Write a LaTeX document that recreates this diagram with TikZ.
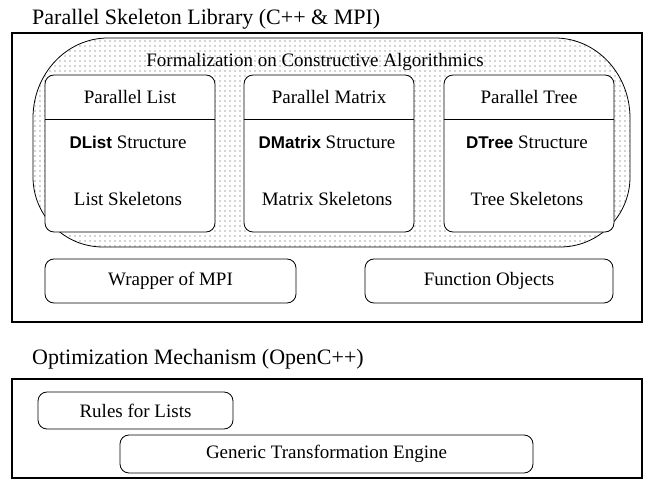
\documentclass[tikz,border=0pt]{standalone}
\usepackage{fontspec}
\setmainfont{Liberation Serif}
\setsansfont{Liberation Sans}
\usetikzlibrary{patterns.meta}

% fine grey stipple used for the formalization layer
\tikzdeclarepattern{
  name=stipple,
  type=uncolored,
  bottom left={(-1pt,-1pt)},
  top right={(4pt,4pt)},
  tile size={(5pt,5pt)},
  code={\fill (0pt,0pt) circle (0.7pt);}
}

\tikzset{
  x=1pt, y=-1pt,
  frame/.style={draw, line width=2.2pt},
  module/.style={draw, line width=0.8pt, rounded corners=9pt, fill=white},
  lbl/.style={font=\fontsize{19}{22}\selectfont, inner sep=0pt},
  ttl/.style={font=\fontsize{22}{26}\selectfont, inner sep=0pt, anchor=west},
}
\newcommand{\cls}[1]{{\sffamily\bfseries\fontsize{17}{20}\selectfont #1}}
% outline of the formalization layer (y grows downwards, so angles are mirrored)
\newcommand{\layerpath}{
  (108,38) -- (555,38)
  arc[start angle=-90, end angle=0, x radius=75, y radius=80]
  -- (630,177)
  arc[start angle=0, end angle=90, x radius=70, y radius=70]
  -- (103,247)
  arc[start angle=90, end angle=180, x radius=70, y radius=70]
  -- (33,118)
  arc[start angle=180, end angle=270, x radius=75, y radius=80]
  -- cycle}

\begin{document}
\begin{tikzpicture}
\useasboundingbox (0,0) rectangle (651,481);

% ---------- Parallel Skeleton Library ----------
\node[ttl] (libtitle) at (32,19) {Parallel Skeleton Library (C++ \& MPI)};
\draw[frame] (12,33) rectangle (642,322);

% formalization layer
\path[fill=white] \layerpath;
\path[pattern={stipple}, pattern color=black!70] \layerpath;
\draw[line width=0.8pt] \layerpath;
\node[lbl] (formal) at (315,62) {Formalization on Constructive Algorithmics};

% the three parallel data structures
\foreach \name/\xl/\head/\cname/\skel in {
    list/45/Parallel List/DList/List Skeletons,
    matrix/244/Parallel Matrix/DMatrix/Matrix Skeletons,
    tree/444/Parallel Tree/DTree/Tree Skeletons} {
  \draw[module] (\xl,75) rectangle ++(170,157);
  \draw[line width=0.8pt] (\xl,119) -- ++(170,0);
  \node[lbl] (\name-head) at (\xl+85,97) {\head};
  \node[lbl] (\name-struct) at (\xl+83,142) {\cls{\cname} Structure};
  \node[lbl] (\name-skel) at (\xl+83,199) {\skel};
}

% support modules
\node[module, lbl, minimum width=251pt, minimum height=44pt] (mpi)
  at (170.5,281) {Wrapper of MPI};
\node[module, lbl, minimum width=248pt, minimum height=44pt] (funobj)
  at (489,281) {Function Objects};

% ---------- Optimization Mechanism ----------
\node[ttl] (opttitle) at (32,359) {Optimization Mechanism (OpenC++)};
\draw[frame] (12,379) rectangle (642,478);

\node[module, lbl, minimum width=195pt, minimum height=37pt] (rules)
  at (135.5,410.5) {Rules for Lists};
\node[module, lbl, minimum width=413pt, minimum height=38pt] (engine)
  at (326.5,454) {Generic Transformation Engine};
\end{tikzpicture}
\end{document}
